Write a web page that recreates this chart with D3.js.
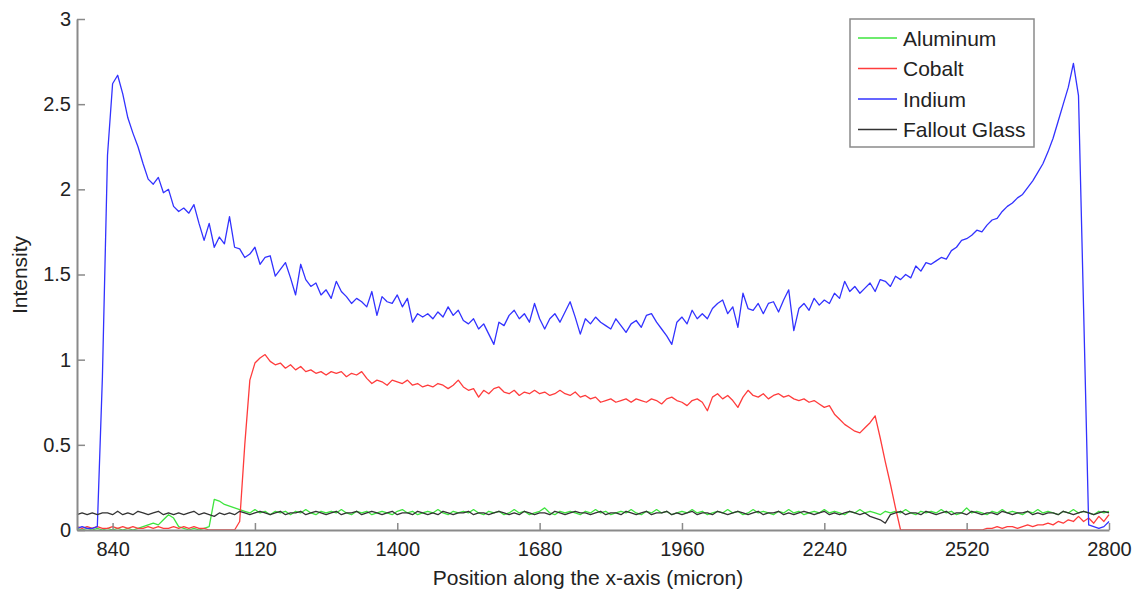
<!DOCTYPE html>
<html>
<head>
<meta charset="utf-8">
<script src="https://cdn.jsdelivr.net/npm/d3@7"></script>
<style>
  body { margin: 0; background: #fff; }
  svg text { font-family: "Liberation Sans", Arial, sans-serif; fill: #222; }
</style>
</head>
<body>
<div id="chart"></div>
<script>
// sample positions along x (micron), one every 10 micron from 770 to 2800
const xStart = 770;
const xStep = 10;

const xTicks = [840, 1120, 1400, 1680, 1960, 2240, 2520, 2800];
const yTicks = [0, 0.5, 1, 1.5, 2, 2.5, 3];

const seriesNames = ["Aluminum", "Cobalt", "Indium", "Fallout Glass"];
const seriesColors = ["#3ee43e", "#ff3c3c", "#3232ff", "#333333"];

const aluminum = [
  0.01, 0.00, 0.01, 0.00, 0.01, 0.00, 0.01, 0.00, 0.01, 0.00,
  0.01, 0.00, 0.01, 0.02, 0.03, 0.04, 0.03, 0.06, 0.09, 0.07,
  0.02, 0.01, 0.00, 0.01, 0.00, 0.01, 0.02, 0.18, 0.17, 0.15,
  0.14, 0.13, 0.12, 0.11, 0.10, 0.12, 0.10, 0.11, 0.09, 0.11,
  0.10, 0.11, 0.09, 0.11, 0.10, 0.12, 0.10, 0.09, 0.11, 0.10,
  0.11, 0.10, 0.12, 0.10, 0.09, 0.11, 0.10, 0.11, 0.09, 0.10,
  0.11, 0.10, 0.09, 0.11, 0.12, 0.10, 0.11, 0.09, 0.10, 0.11,
  0.10, 0.12, 0.10, 0.09, 0.11, 0.10, 0.11, 0.10, 0.12, 0.10,
  0.09, 0.11, 0.10, 0.11, 0.09, 0.10, 0.12, 0.10, 0.11, 0.09,
  0.10, 0.11, 0.13, 0.10, 0.09, 0.11, 0.10, 0.11, 0.10, 0.09,
  0.11, 0.10, 0.12, 0.10, 0.11, 0.09, 0.10, 0.11, 0.10, 0.12,
  0.10, 0.09, 0.11, 0.10, 0.12, 0.10, 0.11, 0.09, 0.10, 0.11,
  0.10, 0.12, 0.10, 0.11, 0.09, 0.10, 0.11, 0.10, 0.12, 0.10,
  0.11, 0.09, 0.10, 0.12, 0.10, 0.11, 0.10, 0.09, 0.11, 0.10,
  0.12, 0.10, 0.11, 0.09, 0.10, 0.11, 0.10, 0.12, 0.10, 0.11,
  0.10, 0.09, 0.11, 0.10, 0.12, 0.10, 0.11, 0.10, 0.09, 0.11,
  0.10, 0.11, 0.10, 0.12, 0.10, 0.09, 0.11, 0.10, 0.11, 0.10,
  0.12, 0.10, 0.11, 0.09, 0.10, 0.13, 0.10, 0.11, 0.10, 0.09,
  0.11, 0.10, 0.12, 0.10, 0.11, 0.10, 0.09, 0.11, 0.10, 0.12,
  0.10, 0.11, 0.10, 0.09, 0.11, 0.10, 0.12, 0.10, 0.11, 0.10,
  0.09, 0.11, 0.10, 0.11
];

const cobalt = [
  0.02, 0.01, 0.02, 0.01, 0.02, 0.01, 0.01, 0.02, 0.01, 0.02,
  0.01, 0.02, 0.01, 0.01, 0.02, 0.01, 0.02, 0.01, 0.01, 0.02,
  0.01, 0.02, 0.01, 0.02, 0.01, 0.01, 0.00, 0.00, 0.00, 0.00,
  0.00, 0.00, 0.05, 0.50, 0.88, 0.98, 1.01, 1.03, 0.99, 0.97,
  0.98, 0.95, 0.97, 0.94, 0.96, 0.93, 0.94, 0.92, 0.93, 0.91,
  0.93, 0.92, 0.93, 0.90, 0.92, 0.91, 0.93, 0.89, 0.86, 0.88,
  0.87, 0.85, 0.88, 0.87, 0.86, 0.88, 0.85, 0.86, 0.84, 0.85,
  0.84, 0.86, 0.85, 0.83, 0.85, 0.88, 0.84, 0.82, 0.83, 0.78,
  0.82, 0.80, 0.83, 0.84, 0.81, 0.80, 0.82, 0.79, 0.81, 0.80,
  0.82, 0.80, 0.81, 0.79, 0.80, 0.82, 0.80, 0.79, 0.81, 0.78,
  0.79, 0.77, 0.78, 0.75, 0.76, 0.77, 0.75, 0.76, 0.77, 0.75,
  0.77, 0.76, 0.75, 0.77, 0.76, 0.74, 0.77, 0.78, 0.76, 0.75,
  0.73, 0.76, 0.77, 0.75, 0.70, 0.78, 0.80, 0.77, 0.79, 0.76,
  0.72, 0.78, 0.82, 0.79, 0.78, 0.80, 0.77, 0.79, 0.80, 0.78,
  0.79, 0.77, 0.76, 0.77, 0.75, 0.76, 0.74, 0.72, 0.73, 0.68,
  0.65, 0.62, 0.60, 0.58, 0.57, 0.60, 0.63, 0.67, 0.54, 0.40,
  0.27, 0.13, 0.00, 0.00, 0.00, 0.00, 0.00, 0.00, 0.00, 0.00,
  0.00, 0.00, 0.00, 0.00, 0.00, 0.00, 0.00, 0.00, 0.00, 0.01,
  0.01, 0.02, 0.01, 0.02, 0.02, 0.01, 0.02, 0.03, 0.02, 0.03,
  0.03, 0.04, 0.03, 0.05, 0.04, 0.06, 0.05, 0.08, 0.05, 0.07,
  0.04, 0.08, 0.05, 0.09
];

const indium = [
  0.01, 0.02, 0.01, 0.01, 0.02, 0.90, 2.20, 2.62, 2.67, 2.56,
  2.42, 2.33, 2.25, 2.15, 2.06, 2.03, 2.07, 1.98, 2.00, 1.90,
  1.87, 1.89, 1.86, 1.91, 1.80, 1.70, 1.80, 1.66, 1.72, 1.68,
  1.84, 1.66, 1.65, 1.60, 1.62, 1.66, 1.56, 1.60, 1.61, 1.49,
  1.53, 1.57, 1.48, 1.38, 1.56, 1.47, 1.43, 1.45, 1.38, 1.41,
  1.36, 1.46, 1.40, 1.37, 1.33, 1.36, 1.34, 1.31, 1.40, 1.26,
  1.37, 1.34, 1.33, 1.38, 1.31, 1.36, 1.22, 1.27, 1.25, 1.27,
  1.24, 1.28, 1.25, 1.31, 1.26, 1.29, 1.23, 1.21, 1.24, 1.18,
  1.21, 1.15, 1.09, 1.22, 1.20, 1.26, 1.29, 1.24, 1.27, 1.22,
  1.33, 1.24, 1.18, 1.24, 1.27, 1.22, 1.28, 1.34, 1.25, 1.15,
  1.24, 1.21, 1.25, 1.22, 1.20, 1.18, 1.24, 1.20, 1.16, 1.21,
  1.23, 1.19, 1.26, 1.27, 1.22, 1.18, 1.14, 1.09, 1.22, 1.25,
  1.21, 1.29, 1.24, 1.27, 1.24, 1.30, 1.33, 1.35, 1.27, 1.31,
  1.19, 1.39, 1.30, 1.29, 1.33, 1.27, 1.33, 1.34, 1.28, 1.35,
  1.41, 1.17, 1.30, 1.33, 1.29, 1.36, 1.32, 1.35, 1.33, 1.39,
  1.36, 1.46, 1.40, 1.43, 1.39, 1.42, 1.45, 1.40, 1.47, 1.46,
  1.43, 1.49, 1.47, 1.50, 1.48, 1.55, 1.52, 1.57, 1.56, 1.58,
  1.60, 1.59, 1.64, 1.66, 1.70, 1.71, 1.73, 1.76, 1.75, 1.79,
  1.82, 1.83, 1.87, 1.90, 1.92, 1.95, 1.97, 2.01, 2.05, 2.10,
  2.15, 2.22, 2.30, 2.40, 2.50, 2.60, 2.74, 2.55, 1.30, 0.03,
  0.02, 0.01, 0.02, 0.05
];

const falloutGlass = [
  0.09, 0.10, 0.09, 0.10, 0.09, 0.10, 0.10, 0.09, 0.11, 0.09,
  0.10, 0.09, 0.11, 0.10, 0.09, 0.10, 0.11, 0.09, 0.10, 0.09,
  0.10, 0.09, 0.10, 0.11, 0.09, 0.10, 0.09, 0.08, 0.10, 0.09,
  0.10, 0.09, 0.11, 0.10, 0.09, 0.10, 0.11, 0.10, 0.09, 0.10,
  0.11, 0.09, 0.10, 0.10, 0.11, 0.09, 0.10, 0.11, 0.10, 0.09,
  0.10, 0.11, 0.09, 0.10, 0.10, 0.11, 0.09, 0.10, 0.11, 0.10,
  0.09, 0.10, 0.11, 0.09, 0.10, 0.10, 0.09, 0.11, 0.10, 0.09,
  0.10, 0.09, 0.11, 0.10, 0.09, 0.10, 0.10, 0.11, 0.09, 0.10,
  0.10, 0.09, 0.10, 0.11, 0.10, 0.09, 0.10, 0.09, 0.11, 0.10,
  0.09, 0.10, 0.10, 0.09, 0.11, 0.10, 0.09, 0.10, 0.11, 0.10,
  0.10, 0.09, 0.10, 0.11, 0.09, 0.10, 0.10, 0.09, 0.11, 0.10,
  0.09, 0.10, 0.11, 0.09, 0.10, 0.10, 0.11, 0.09, 0.10, 0.09,
  0.10, 0.11, 0.09, 0.10, 0.10, 0.09, 0.11, 0.10, 0.09, 0.10,
  0.11, 0.10, 0.09, 0.10, 0.11, 0.09, 0.10, 0.10, 0.11, 0.09,
  0.10, 0.09, 0.10, 0.11, 0.10, 0.09, 0.10, 0.11, 0.09, 0.10,
  0.09, 0.10, 0.11, 0.10, 0.09, 0.10, 0.08, 0.07, 0.06, 0.04,
  0.09, 0.10, 0.11, 0.09, 0.10, 0.10, 0.09, 0.11, 0.10, 0.09,
  0.10, 0.11, 0.09, 0.10, 0.10, 0.09, 0.11, 0.10, 0.09, 0.10,
  0.10, 0.09, 0.11, 0.10, 0.09, 0.10, 0.10, 0.11, 0.09, 0.10,
  0.09, 0.10, 0.10, 0.09, 0.11, 0.10, 0.09, 0.10, 0.11, 0.10,
  0.09, 0.10, 0.11, 0.10
];

const allSeries = [aluminum, cobalt, indium, falloutGlass];

const width = 1138, height = 594;
const margin = { top: 19, right: 29, bottom: 64, left: 77 };

const svg = d3.select("#chart").append("svg")
    .attr("width", width)
    .attr("height", height);

const x = d3.scaleLinear()
    .domain([xStart, 2800])
    .range([margin.left, width - margin.right]);

const y = d3.scaleLinear()
    .domain([0, 3])
    .range([height - margin.bottom, margin.top]);

// lines first, axes drawn over them
const line = d3.line()
    .x((d, i) => x(xStart + i * xStep))
    .y(d => y(d));

svg.append("g")
    .selectAll("path")
    .data(allSeries)
    .enter().append("path")
    .attr("fill", "none")
    .attr("stroke", (d, i) => seriesColors[i])
    .attr("stroke-width", 1.3)
    .attr("stroke-linejoin", "round")
    .attr("d", d => line(d));

// MATLAB style: ticks pointing inward, grey axis lines
const xAxis = svg.append("g")
    .attr("transform", `translate(0,${height - margin.bottom})`)
    .call(d3.axisBottom(x).tickValues(xTicks).tickSizeInner(-7).tickSizeOuter(0).tickPadding(12)
        .tickFormat(d3.format("d")));

const yAxis = svg.append("g")
    .attr("transform", `translate(${margin.left},0)`)
    .call(d3.axisLeft(y).tickValues(yTicks).tickSizeInner(-8).tickSizeOuter(0).tickPadding(6)
        .tickFormat(d3.format("")));

[xAxis, yAxis].forEach(g => {
    g.select(".domain").attr("stroke", "#8a8a8a").attr("stroke-width", 2);
    g.selectAll(".tick line").attr("stroke", "#8a8a8a").attr("stroke-width", 1.5);
    g.selectAll(".tick text")
        .style("font-size", "20px")
        .style("font-family", "Liberation Sans, Arial, sans-serif")
        .attr("fill", "#222");
});

svg.append("text")
    .attr("x", 588)
    .attr("y", 585)
    .attr("text-anchor", "middle")
    .style("font-size", "21px")
    .text("Position along the x-axis (micron)");

svg.append("text")
    .attr("transform", "translate(27,275) rotate(-90)")
    .attr("text-anchor", "middle")
    .style("font-size", "21px")
    .text("Intensity");

// legend box
const legend = svg.append("g").attr("transform", "translate(850,19)");

legend.append("rect")
    .attr("width", 184)
    .attr("height", 128)
    .attr("fill", "#fff")
    .attr("stroke", "#8a8a8a")
    .attr("stroke-width", 1.5);

const entry = legend.selectAll("g.entry")
    .data(seriesNames)
    .enter().append("g")
    .attr("class", "entry")
    .attr("transform", (d, i) => `translate(0,${19 + i * 30.5})`);

entry.append("line")
    .attr("x1", 8)
    .attr("x2", 47)
    .attr("stroke", (d, i) => seriesColors[i])
    .attr("stroke-width", 1.3);

entry.append("text")
    .attr("x", 53)
    .attr("dy", "0.36em")
    .style("font-size", "21px")
    .text(d => d);
</script>
</body>
</html>
